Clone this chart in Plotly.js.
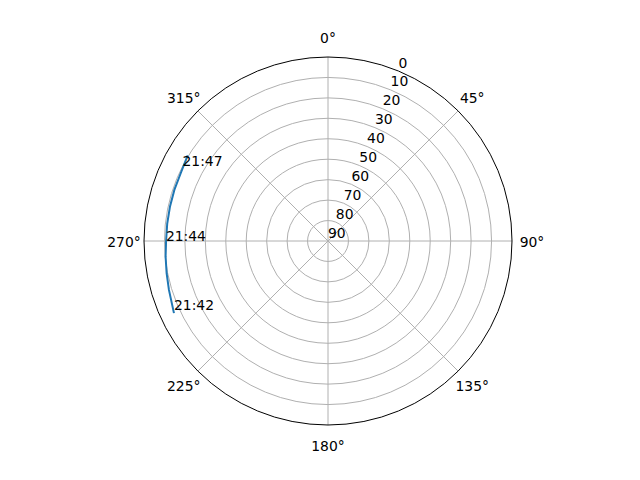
<!DOCTYPE html>
<html>
<head>
<meta charset="utf-8">
<script src="https://cdn.plot.ly/plotly-3.0.1.min.js"></script>
<style>
  html, body { margin: 0; padding: 0; background: #fff; }
  #chart { width: 640px; height: 480px; }
</style>
</head>
<body>
<div id="chart"></div>
<script>
// Sky track of one pass: azimuth (deg, clockwise from north) and elevation (deg)
const azimuth   = [244.9, 252.9, 258.7, 264.5, 270.0, 276.1, 282.2, 288.4, 294.7, 301.4];
const elevation = [6.8,   8.6,   9.5,   10.2,  10.8,  10.9,  10.9,  10.8,  10.7,  9.6];

// Time stamps written next to the track
const labelTimes = ['21:42', '21:44', '21:47'];
const labelAz    = [244.9, 268.9, 296.3];
const labelEl    = [6.8,   10.7,  10.6];

const angleTicks     = [0, 45, 90, 135, 180, 225, 270, 315];
const angleTickText  = ['0°', '45°', '90°', '135°', '180°', '225°', '270°', '315°'];
const radialTicks    = [0, 10, 20, 30, 40, 50, 60, 70, 80, 90];
const RADIAL_LABEL_AZ = 22.5;   // where the elevation numbers sit

const FONT = 'DejaVu Sans, sans-serif';
const FSIZE = 13.9;
const GRID = '#b0b0b0';
const W = 640, H = 480;

// circle geometry in pixels; the second (invisible) polar carries the
// centred azimuth labels a bit outside the rim, as matplotlib does
const CX = 328, CY = 241, R = 184;
const R_LABEL = 204, LABEL_DY = 2.5;   // text sits a touch high otherwise

function domainFor(r, dy) {
  const cy = CY + (dy || 0);
  return {
    x: [(CX - r) / W, (CX + r) / W],
    y: [(H - cy - r) / H, (H - cy + r) / H],
  };
}

const traces = [
  {
    type: 'scatterpolar', mode: 'lines', subplot: 'polar',
    theta: azimuth, r: elevation,
    line: { color: '#1f77b4', width: 2 },
  },
  {
    type: 'scatterpolar', mode: 'text', subplot: 'polar',
    theta: labelAz, r: labelEl, text: labelTimes,
    textposition: 'top right',
    textfont: { family: FONT, size: FSIZE, color: '#000' },
  },
  // elevation tick labels along the 22.5° direction
  {
    type: 'scatterpolar', mode: 'text', subplot: 'polar',
    theta: radialTicks.map(() => RADIAL_LABEL_AZ), r: radialTicks,
    text: radialTicks.map(String),
    textposition: 'top right',
    textfont: { family: FONT, size: FSIZE, color: '#000' },
    cliponaxis: false,
  },
  // azimuth tick labels, centred just outside the rim
  {
    type: 'scatterpolar', mode: 'text', subplot: 'polar2',
    theta: angleTicks, r: angleTicks.map(() => 1),
    text: angleTickText,
    textposition: 'middle center',
    textfont: { family: FONT, size: FSIZE, color: '#000' },
    cliponaxis: false,
  },
];

const layout = {
  width: W, height: H,
  margin: { l: 0, r: 0, t: 0, b: 0 },
  paper_bgcolor: '#fff',
  showlegend: false,
  font: { family: FONT, size: FSIZE, color: '#000' },
  polar: {
    domain: domainFor(R),
    bgcolor: '#fff',
    angularaxis: {
      rotation: 90, direction: 'clockwise',
      tickmode: 'array', tickvals: angleTicks,
      showticklabels: false,
      showline: true, linecolor: '#000', linewidth: 1,
      gridcolor: GRID, gridwidth: 1,
      ticks: '',
    },
    radialaxis: {
      range: [90, 0],
      tickmode: 'array', tickvals: radialTicks,
      showticklabels: false,
      showline: false, ticks: '',
      gridcolor: GRID, gridwidth: 1,
    },
  },
  polar2: {
    domain: domainFor(R_LABEL, LABEL_DY),
    bgcolor: 'rgba(0,0,0,0)',
    angularaxis: { rotation: 90, direction: 'clockwise', visible: false },
    radialaxis: { range: [0, 1], visible: false },
  },
};

Plotly.newPlot('chart', traces, layout, { displayModeBar: false, staticPlot: true });
</script>
</body>
</html>
